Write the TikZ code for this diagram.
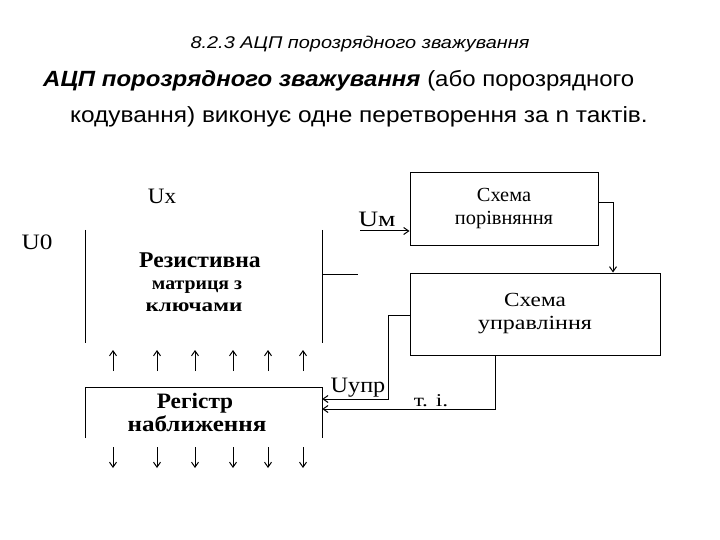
\documentclass[tikz,border=0pt]{standalone}
\usepackage{graphicx}
\usepackage{fontspec}
\setmainfont{Liberation Sans}
\newfontfamily\dserif{Liberation Serif}
\usetikzlibrary{arrows.meta}
\newcommand{\sxx}[2]{\scalebox{#1}[1]{#2}}
\begin{document}
\begin{tikzpicture}[x=1pt,y=-1pt,
  ln/.style={line width=1pt},
  arr/.style={ln,-{Straight Barb[length=5pt,width=7pt]}},
  blk/.style={draw,ln,rectangle,inner sep=0pt,font=\dserif\fontsize{20}{23}\selectfont,align=center},
  open/.style={rectangle,inner sep=0pt,align=center},
  lbl/.style={font=\dserif\fontsize{22}{24}\selectfont,inner sep=0pt}]
\useasboundingbox (0,0) rectangle (720,540);
% heading
\node[anchor=base,inner sep=0pt] (title) at (360,49) {\fontsize{17}{20}\selectfont\itshape\sxx{1.17}{8.2.3 АЦП порозрядного зважування}};
\node[anchor=base west,inner sep=0pt] (l1) at (43,87) {\fontsize{22}{26}\selectfont\sxx{1.09}{\textbf{\textit{АЦП порозрядного зважування}} (або порозрядного}};
\node[anchor=base west,inner sep=0pt] (l2) at (70,123) {\fontsize{22}{26}\selectfont\sxx{1.11}{кодування) виконує одне перетворення за n тактів.}};
% blocks
\node[open,minimum width=236pt,minimum height=113pt] (mat) at (204,286.5) {};
\node[open,anchor=base,font=\dserif\bfseries\fontsize{22.5}{25}\selectfont] (mt1) at (200,267) {\sxx{1.05}{Резистивна}};
\node[open,anchor=base,font=\dserif\bfseries\fontsize{18.5}{21}\selectfont] (mt2) at (197,289) {\sxx{1.07}{матриця з}};
\node[open,anchor=base,font=\dserif\bfseries\fontsize{18.5}{21}\selectfont] (mt3) at (194,311) {\sxx{1.25}{ключами}};
\draw[ln] (mat.north west) -- (mat.south west);
\draw[ln] (mat.north east) -- (mat.south east);
\node[open,minimum width=236pt,minimum height=50pt] (reg) at (204,413) {};
\node[open,anchor=base,font=\dserif\bfseries\fontsize{22}{24}\selectfont] (rt1) at (195,408) {\sxx{1.06}{Регістр}};
\node[open,anchor=base,font=\dserif\bfseries\fontsize{22}{24}\selectfont] (rt2) at (197,431) {\sxx{1.14}{наближення}};
\draw[ln] (reg.south west) -- (reg.north west) -- (reg.north east) -- (reg.south east);
\node[blk,minimum width=188pt,minimum height=72pt] (cmp) at (504,209) {\sxx{1.02}{Схема}\\\sxx{1.02}{порівняння}};
\node[blk,minimum width=250pt,minimum height=82pt] (ctl) at (535,314) {\sxx{1.16}{Схема}\\\sxx{1.2}{управління}};
% labels
\node[lbl] (ux) at (162,196) {\sxx{1.05}{Ux}};
\node[lbl] (u0) at (37,242) {\sxx{1.15}{U0}};
\node[lbl] (um) at (377,219) {\sxx{1.25}{Uм}};
\node[lbl] (uupr) at (358,388) {\sxx{1.1}{Uупр}};
\node[lbl,font=\dserif\fontsize{18}{20}\selectfont] (ti) at (431,401) {\sxx{1.3}{т. і.}};
% connectors
\coordinate (mo) at (358,274);
\draw[ln] (mat.east |- mo) -- (mo);
\coordinate (umin) at (360,231);
\draw[arr] (umin) -- (cmp.west |- umin);
\coordinate (c1) at (613,203);
\draw[arr] (cmp.east |- c1) -- (c1) -- (ctl.north -| c1);
\coordinate (k1) at (388,315);
\coordinate (k2) at (388,399);
\draw[arr] (ctl.west |- k1) -- (k1) -- (k2) -- (reg.east |- k2);
\coordinate (t1) at (495,409);
\draw[arr] (ctl.south -| t1) -- (t1) -- (reg.east |- t1);
% bit arrows
\foreach \x [count=\i] in {113,157,195,233,268,303}{
  \coordinate (ua\i) at (\x,371);
  \coordinate (ub\i) at (\x,350);
  \draw[arr] (ua\i) -- (ub\i);
  \coordinate (da\i) at (\x,447);
  \coordinate (db\i) at (\x,468);
  \draw[arr] (da\i) -- (db\i);
}
\end{tikzpicture}
\end{document}
